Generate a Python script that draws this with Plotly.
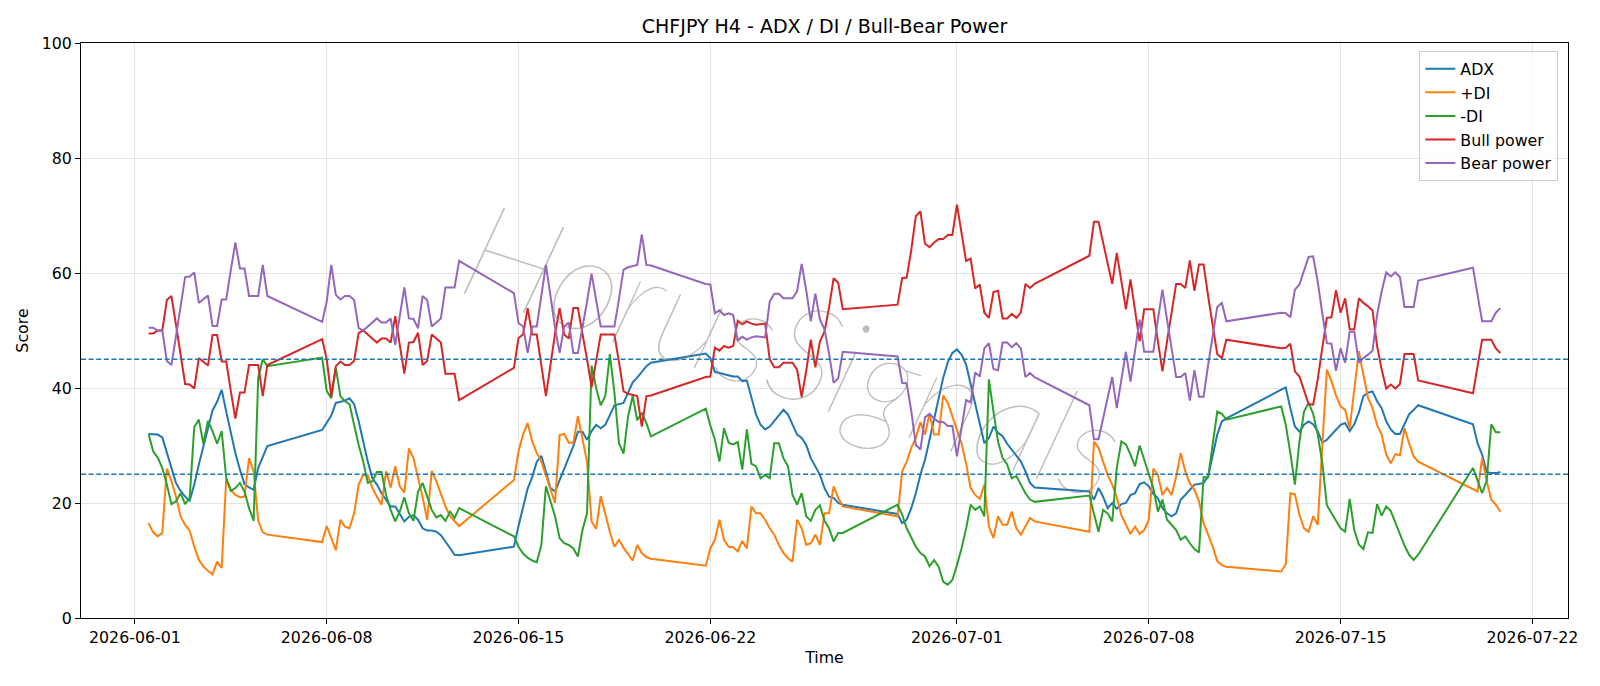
import pandas as pd
import plotly.graph_objects as go

# ---- data (H4 bars, weekly sessions Sun 20:00 -> Fri 20:00) ----
week_starts = ["2026-06-01 12:00", "2026-06-07 20:00", "2026-06-14 20:00", "2026-06-21 20:00",
               "2026-06-28 20:00", "2026-07-05 20:00", "2026-07-12 20:00", "2026-07-19 20:00"]
week_bars = [27, 31, 31, 31, 31, 31, 31, 7]

adx = [
    32.0, 32.0, 31.9, 31.4, 28.7, 26.1, 23.5, 22.1, 21.1, 20.4, 23.2, 26.7, 29.9, 33.0, 36.1, 37.6, 39.7, 35.9, 32.2, 28.7,
    25.8, 23.3, 22.7, 22.3, 26.1, 28.1, 29.9,
    32.7, 34.0, 35.2, 37.4, 37.6, 37.8, 38.2, 37.2, 34.2, 30.4, 27.2, 24.3, 23.2, 21.7, 20.6, 19.4, 19.4, 18.2, 16.8, 17.6,
    17.9, 17.1, 15.6, 15.2, 15.2, 15.0, 14.4, 13.3, 12.1, 11.0, 10.9,
    12.4, 16.0, 19.5, 22.5, 24.5, 27.2, 28.2, 25.5, 22.6, 22.0, 24.0, 26.1, 27.8, 29.9, 32.4, 32.4, 31.0, 32.5, 33.6, 33.0,
    33.6, 35.4, 37.0, 37.2, 37.4, 39.2, 41.0, 41.8, 42.8, 43.8, 44.4,
    46.0, 45.2, 42.8, 42.6, 42.4, 42.3, 42.0, 42.0, 41.2, 41.3, 38.3, 35.4, 33.6, 32.8, 33.3, 34.2, 35.1, 36.2, 35.4, 33.6,
    31.9, 31.3, 30.1, 27.8, 26.4, 24.9, 22.6, 21.1, 20.9, 20.0, 19.7,
    18.1, 16.5, 17.1, 19.1, 21.7, 24.9, 27.5, 31.0, 34.8, 38.5, 41.8, 44.5, 46.1, 46.7, 45.8, 44.1, 40.6, 37.1, 33.6, 30.4,
    31.3, 33.3, 32.2, 31.6, 30.3, 29.3, 28.3, 27.2, 25.5, 23.5, 22.7,
    22.0, 20.6, 22.6, 21.1, 19.1, 20.0, 19.0, 19.8, 20.0, 21.4, 21.7, 23.3, 23.6, 22.9, 21.6, 20.8, 19.1, 18.2, 17.7, 18.2,
    20.6, 21.4, 22.3, 23.2, 23.3, 23.5, 24.6, 28.0, 31.9, 34.2, 34.7,
    39.7, 40.1, 36.5, 33.3, 32.4, 33.6, 34.2, 33.7, 32.5, 30.5, 31.0, 31.9, 32.8, 33.6, 33.9, 32.5, 33.7, 35.7, 38.6, 39.2,
    39.4, 37.7, 36.5, 34.2, 32.8, 32.0, 32.0, 33.6, 35.4, 36.2, 37.0,
    33.7, 30.4, 28.4, 25.4, 25.2, 25.2, 25.4,
]

plus_di = [
    16.5, 14.9, 14.2, 14.8, 26.0, 23.8, 21.1, 17.7, 16.2, 15.2, 12.4, 10.1, 9.0, 8.2, 7.6, 9.8, 8.7, 24.3, 22.3, 21.4,
    21.0, 21.1, 27.8, 25.5, 16.9, 14.9, 14.5,
    13.2, 16.0, 14.0, 11.8, 17.1, 15.9, 15.6, 18.2, 23.2, 24.9, 24.8, 22.6, 21.1, 19.7, 25.5, 22.7, 26.4, 22.9, 21.8, 29.5,
    27.8, 24.6, 21.0, 17.1, 25.6, 23.8, 21.4, 19.4, 17.7, 16.8, 16.0,
    24.0, 29.0, 31.9, 33.9, 30.7, 28.7, 27.2, 24.9, 22.5, 20.0, 31.8, 32.0, 30.5, 30.5, 35.1, 31.0, 27.2, 16.8, 15.5, 21.2,
    18.0, 15.0, 12.4, 13.6, 12.2, 11.0, 10.0, 12.7, 11.3, 10.6, 10.3,
    9.1, 12.1, 13.6, 17.1, 13.6, 12.4, 12.3, 11.6, 13.4, 12.1, 19.4, 18.2, 18.2, 17.1, 15.6, 14.5, 12.7, 11.3, 10.4, 9.8,
    17.1, 15.6, 12.7, 13.0, 14.5, 12.7, 18.2, 18.2, 22.9, 20.9, 19.4,
    17.7, 25.5, 27.2, 29.6, 31.3, 34.1, 31.9, 35.5, 31.9, 31.9, 38.7, 37.4, 35.1, 32.8, 30.4, 26.9, 22.6, 21.4, 20.7, 23.2,
    15.9, 13.9, 17.7, 16.2, 16.2, 18.5, 15.6, 14.5, 15.9, 17.4, 16.8,
    15.0, 30.7, 29.6, 27.2, 24.9, 23.2, 21.0, 17.9, 16.2, 14.6, 15.9, 14.6, 15.3, 17.1, 26.0, 24.9, 21.4, 22.6, 21.4, 24.6,
    28.7, 25.5, 23.4, 22.3, 20.3, 16.5, 14.5, 12.4, 9.9, 9.2, 8.9,
    8.1, 9.4, 21.7, 21.5, 17.9, 15.6, 15.0, 17.7, 16.2, 30.0, 43.2, 41.2, 38.7, 36.8, 36.2, 33.0, 39.4, 46.4, 42.3, 38.3,
    36.5, 33.6, 31.9, 28.4, 26.9, 28.5, 28.3, 33.0, 30.4, 28.1, 27.2,
    22.4, 22.0, 27.8, 23.8, 20.6, 19.7, 18.5,
]

minus_di = [
    32.0, 29.0, 27.9, 26.1, 23.2, 19.8, 20.3, 21.7, 19.8, 20.9, 33.2, 34.5, 30.3, 34.3, 32.5, 30.3, 32.5, 24.3, 22.1, 22.6,
    23.5, 22.0, 19.1, 16.9, 41.8, 45.0, 43.8,
    45.3, 39.5, 38.2, 43.5, 38.6, 37.7, 37.2, 33.6, 30.1, 27.2, 23.5, 23.8, 25.4, 25.4, 21.4, 18.8, 16.8, 18.5, 21.0, 18.2,
    16.9, 22.0, 23.5, 21.1, 18.8, 17.5, 17.9, 16.9, 18.5, 17.4, 19.1,
    14.2, 12.4, 11.2, 10.5, 10.0, 9.7, 12.7, 22.9, 20.3, 17.7, 13.9, 13.0, 12.7, 12.1, 10.7, 15.3, 18.2, 43.9, 40.0, 37.0,
    38.6, 45.9, 39.2, 30.4, 28.6, 35.1, 38.6, 34.4, 35.7, 33.9, 31.6,
    36.4, 33.5, 31.0, 27.2, 33.0, 30.5, 30.2, 30.6, 25.8, 32.8, 26.8, 26.4, 24.3, 24.9, 24.3, 30.4, 30.4, 27.8, 26.4, 21.4,
    19.7, 21.7, 17.7, 16.9, 18.8, 19.6, 16.9, 15.6, 13.3, 14.8, 14.8,
    19.7, 18.0, 15.6, 13.9, 12.4, 11.3, 10.7, 9.0, 10.1, 8.9, 6.3, 5.8, 6.6, 9.2, 12.1, 15.5, 19.7, 18.8, 19.4, 17.7,
    41.5, 35.9, 30.7, 27.8, 26.7, 24.3, 24.7, 23.2, 21.7, 20.6, 20.2,
    21.3, 17.9, 15.0, 18.8, 18.2, 16.8, 26.1, 30.7, 30.2, 28.4, 26.4, 30.0, 27.5, 25.2, 22.6, 18.5, 20.6, 17.1, 16.2, 15.3,
    13.6, 14.2, 13.0, 12.0, 11.4, 24.5, 24.5, 30.7, 35.9, 35.5, 34.5,
    36.8, 33.6, 28.7, 23.2, 30.7, 35.9, 37.4, 35.5, 31.9, 27.0, 19.6, 18.2, 16.9, 15.6, 15.0, 20.7, 15.3, 12.8, 12.0, 14.9,
    14.8, 19.8, 17.8, 19.4, 18.6, 16.5, 14.5, 12.6, 11.0, 10.1, 11.0,
    26.1, 23.9, 21.7, 23.9, 33.7, 32.3, 32.3,
]

bull_power = [
    49.5, 49.5, 50.0, 50.0, 55.3, 56.0, 51.0, 45.5, 40.7, 40.6, 39.9, 45.2, 44.6, 43.9, 49.2, 49.2, 44.6, 44.6, 39.5, 34.7,
    39.2, 39.2, 44.0, 44.0, 44.0, 38.6, 44.0,
    48.5, 45.0, 38.6, 43.8, 44.6, 44.0, 44.0, 44.7, 49.6, 50.0, 49.3, 48.6, 47.9, 48.6, 48.6, 47.9, 52.5, 47.5, 42.5, 47.9,
    48.0, 49.6, 44.0, 44.7, 49.3, 48.6, 47.9, 42.5, 42.5, 42.5, 37.9,
    43.5, 48.7, 49.3, 53.9, 49.3, 49.3, 44.1, 38.6, 44.0, 49.5, 53.9, 49.3, 48.6, 53.9, 53.9, 49.6, 45.0, 40.1, 44.7, 49.3,
    49.3, 49.3, 49.3, 44.5, 39.4, 39.0, 38.8, 38.6, 33.3, 38.6, 38.7,
    41.9, 42.0, 47.0, 46.5, 47.3, 47.0, 47.3, 51.7, 51.1, 51.6, 51.2, 51.0, 51.1, 51.2, 45.0, 43.6, 43.6, 44.4, 44.4, 44.4,
    43.2, 38.4, 43.0, 48.4, 43.6, 48.1, 49.8, 54.0, 59.1, 58.3, 53.7,
    54.5, 59.1, 59.2, 64.0, 69.9, 70.7, 65.1, 64.5, 65.3, 65.9, 65.9, 66.6, 66.6, 71.9, 67.0, 62.1, 62.5, 57.3, 58.0, 53.1,
    52.2, 56.7, 56.9, 52.1, 52.1, 52.9, 52.2, 53.1, 58.1, 57.4, 58.1,
    63.0, 68.9, 68.9, 65.3, 61.7, 58.1, 63.5, 58.3, 53.7, 58.9, 53.5, 48.1, 53.7, 53.7, 53.7, 48.1, 42.9, 48.1, 53.4, 58.1,
    58.1, 57.4, 62.2, 56.9, 61.5, 61.5, 56.0, 50.5, 45.9, 45.2, 48.4,
    46.9, 47.0, 47.7, 42.9, 42.0, 39.4, 37.2, 37.1, 41.5, 47.0, 52.2, 52.3, 57.0, 53.1, 55.6, 50.2, 50.2, 55.6, 54.8, 54.2,
    53.5, 47.3, 43.2, 39.9, 40.6, 39.9, 40.7, 45.9, 45.9, 45.9, 41.3,
    39.1, 43.8, 48.4, 48.4, 48.4, 46.9, 46.1,
]

bear_power = [
    50.5, 50.5, 50.0, 50.0, 44.7, 44.0, 49.0, 54.5, 59.3, 59.4, 60.1, 54.8, 55.4, 56.1, 50.8, 50.8, 55.4, 55.4, 60.5, 65.3,
    60.8, 60.8, 56.0, 56.0, 56.0, 61.4, 56.0,
    51.5, 55.0, 61.4, 56.2, 55.4, 56.0, 56.0, 55.3, 50.4, 50.0, 50.7, 51.4, 52.1, 51.4, 51.4, 52.1, 47.5, 52.5, 57.5, 52.1,
    52.0, 50.4, 56.0, 55.3, 50.7, 51.4, 52.1, 57.5, 57.5, 57.5, 62.1,
    56.5, 51.3, 50.7, 46.1, 50.7, 50.7, 55.9, 61.4, 56.0, 50.5, 46.1, 50.7, 51.4, 46.1, 46.1, 50.4, 55.0, 59.9, 55.3, 50.7,
    50.7, 50.7, 50.7, 55.5, 60.6, 61.0, 61.2, 61.4, 66.7, 61.4, 61.3,
    58.1, 58.0, 53.0, 53.5, 52.7, 53.0, 52.7, 48.3, 48.9, 48.4, 48.8, 49.0, 48.9, 48.8, 55.0, 56.4, 56.4, 55.6, 55.6, 55.6,
    56.8, 61.6, 57.0, 51.6, 56.4, 51.9, 50.2, 46.0, 40.9, 41.7, 46.3,
    45.5, 40.9, 40.8, 36.0, 30.1, 29.3, 34.9, 35.5, 34.7, 34.1, 34.1, 33.4, 33.4, 28.1, 33.0, 37.9, 37.5, 42.7, 42.0, 46.9,
    47.8, 43.3, 43.1, 47.9, 47.9, 47.1, 47.8, 46.9, 41.9, 42.6, 41.9,
    37.0, 31.1, 31.1, 34.7, 38.3, 41.9, 36.5, 41.7, 46.3, 41.1, 46.5, 51.9, 46.3, 46.3, 46.3, 51.9, 57.1, 51.9, 46.6, 41.9,
    41.9, 42.6, 37.8, 43.1, 38.5, 38.5, 44.0, 49.5, 54.1, 54.8, 51.6,
    53.1, 53.0, 52.3, 57.1, 58.0, 60.6, 62.8, 62.9, 58.5, 53.0, 47.8, 47.7, 43.0, 46.9, 44.4, 49.8, 49.8, 44.4, 45.2, 45.8,
    46.5, 52.7, 56.8, 60.1, 59.4, 60.1, 59.3, 54.1, 54.1, 54.1, 58.7,
    60.9, 56.2, 51.6, 51.6, 51.6, 53.1, 53.9,
]

thresholds = [45, 25]
x_tick_dates = ["2026-06-01", "2026-06-08", "2026-06-15", "2026-06-22",
                "2026-07-01", "2026-07-08", "2026-07-15", "2026-07-22"]
y_ticks = [0, 20, 40, 60, 80, 100]

# ---- timestamps ----
times = []
for start, n in zip(week_starts, week_bars):
    times.extend(pd.date_range(start, periods=n, freq="4h"))
times = pd.DatetimeIndex(times)

span = times[-1] - times[0]
x_range = [times[0] - 0.05 * span, times[-1] + 0.05 * span]

FONT = "DejaVu Sans, Arial, sans-serif"
FS = 15.8
series = [
    ("ADX", adx, "#1f77b4"),
    ("+DI", plus_di, "#ff7f0e"),
    ("-DI", minus_di, "#2ca02c"),
    ("Bull power", bull_power, "#d62728"),
    ("Bear power", bear_power, "#9467bd"),
]

fig = go.Figure()
for name, vals, color in series:
    fig.add_trace(go.Scatter(x=times, y=vals, mode="lines", name=name,
                             line=dict(color=color, width=2)))

for t in thresholds:
    fig.add_hline(y=t, line=dict(color="#1f77b4", width=1.4, dash="5px,2.6px"))

fig.add_annotation(text="HorusSignals", xref="paper", yref="paper", x=0.480, y=0.473,
                   showarrow=False, textangle=18,
                   font=dict(family="Lato, Roboto, DejaVu Sans", size=134, color="rgba(125,125,125,0.5)",
                             style="italic", weight=200))

axis_common = dict(showline=True, linecolor="black", linewidth=1, mirror=True,
                   ticks="outside", ticklen=5, tickwidth=1, tickcolor="black",
                   showgrid=True, gridcolor="#e4e4e4", gridwidth=1, zeroline=False,
                   tickfont=dict(family=FONT, size=FS, color="black"))

fig.update_layout(
    width=1600, height=686,
    margin=dict(l=81, r=32, t=43, b=68, pad=0),
    paper_bgcolor="white", plot_bgcolor="white",
    font=dict(family=FONT, size=FS, color="black"),
    title=dict(text="CHFJPY H4 - ADX / DI / Bull-Bear Power", x=0.5, xref="paper",
               y=1 - 26 / 686, yref="container", yanchor="middle", xanchor="center",
               font=dict(family=FONT, size=19, color="black")),
    xaxis=dict(type="date", range=x_range, tickvals=x_tick_dates,
               ticktext=x_tick_dates,
               title=dict(text="Time", standoff=5, font=dict(family=FONT, size=FS)),
               **axis_common),
    yaxis=dict(range=[0, 100], tickvals=y_ticks,
               title=dict(text="Score", standoff=9, font=dict(family=FONT, size=FS)),
               **axis_common),
    legend=dict(x=0.9935, y=0.986, xanchor="right", yanchor="top",
                bgcolor="rgba(255,255,255,0.8)", bordercolor="#cccccc", borderwidth=1,
                font=dict(family=FONT, size=FS, color="black"),
                tracegroupgap=0),
    showlegend=True,
)

fig.write_html("out.html")
